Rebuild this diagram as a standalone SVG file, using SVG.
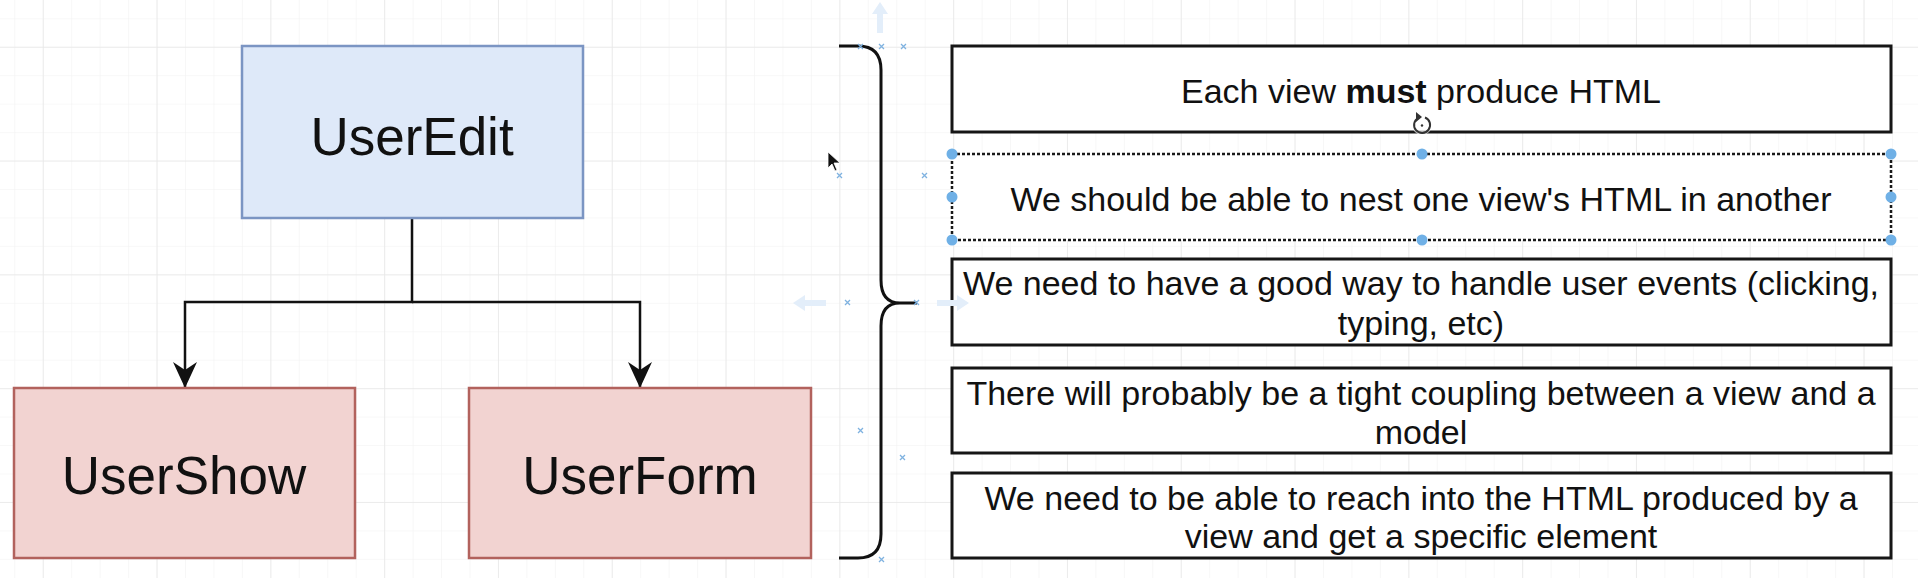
<svg xmlns="http://www.w3.org/2000/svg" width="1918" height="578" viewBox="0 0 1918 578">
<style>
.lbl{font-family:"Liberation Sans",Arial,sans-serif;fill:#111;text-anchor:middle}
.big{font-size:53px}
.txt{font-size:34px}
.blue{fill:#dee9f9;stroke:#7b95c3;stroke-width:2.5}
.red{fill:#f2d3d1;stroke:#b2625d;stroke-width:2.5}
.req{fill:#fff;stroke:#161616;stroke-width:3}
.edge{fill:none;stroke:#111;stroke-width:2.5}
.xm{stroke:#7fb2e0;stroke-width:1.3}
.hd{fill:#6fb0e6}
.ghost{fill:#e3eefa}
</style>
<defs>
<pattern id="minor" x="14.3" y="18.3" width="28.45" height="28.45" patternUnits="userSpaceOnUse">
<path d="M0,0 V28.45 M0,0 H28.45" fill="none" stroke="#f2f2f2" stroke-width="1.2"/>
</pattern>
<pattern id="major" x="42.75" y="46.75" width="113.8" height="113.8" patternUnits="userSpaceOnUse">
<path d="M0,0 V113.8 M0,0 H113.8" fill="none" stroke="#e8e8e8" stroke-width="1.5"/>
</pattern>
<marker id="arr" markerWidth="26" markerHeight="26" viewBox="0 0 26 26" refX="26" refY="13" orient="auto" markerUnits="userSpaceOnUse">
<path d="M0,1 L26,13 L0,25 L8,13 Z" fill="#111"/>
</marker>
</defs>
<rect width="1918" height="578" fill="#fff"/>
<rect width="1918" height="578" fill="url(#minor)"/>
<rect width="1918" height="578" fill="url(#major)"/>

<g id="connectors">
<path class="edge" d="M412,218 V302 H185 V388" marker-end="url(#arr)"/>
<path class="edge" d="M412,302 H640 V388" marker-end="url(#arr)"/>
</g>

<g id="userEdit">
<rect class="blue" x="242" y="46" width="341" height="172"/>
<text class="lbl big" x="412" y="155">UserEdit</text>
</g>
<g id="userShow">
<rect class="red" x="14" y="388" width="341" height="170"/>
<text class="lbl big" x="184" y="494">UserShow</text>
</g>
<g id="userForm">
<rect class="red" x="469" y="388" width="342" height="170"/>
<text class="lbl big" x="640" y="494">UserForm</text>
</g>

<g id="brace">
<path d="M839,46 H858 Q881,46 881,70 V280 Q881,303 900,303 H917 M900,303 Q881,303 881,326 V534 Q881,558 858,558 H839" fill="none" stroke="#111" stroke-width="3"/>
</g>

<g id="req1">
<rect class="req" x="952" y="46" width="939" height="86"/>
<text class="lbl txt" x="1421" y="103">Each view <tspan font-weight="bold">must</tspan> produce HTML</text>
</g>
<g id="req2">
<rect x="952" y="154" width="939" height="86" fill="#fff" stroke="#1a1a1a" stroke-width="2.5" stroke-dasharray="3 2"/>
<text class="lbl txt" x="1421" y="211">We should be able to nest one view's HTML in another</text>
</g>
<g id="req3">
<rect class="req" x="952" y="259" width="939" height="86"/>
<text class="lbl txt" x="1421" y="295">We need to have a good way to handle user events (clicking,</text>
<text class="lbl txt" x="1421" y="335">typing, etc)</text>
</g>
<g id="req4">
<rect class="req" x="952" y="368" width="939" height="85"/>
<text class="lbl txt" x="1421" y="405">There will probably be a tight coupling between a view and a</text>
<text class="lbl txt" x="1421" y="444">model</text>
</g>
<g id="req5">
<rect class="req" x="952" y="473" width="939" height="85"/>
<text class="lbl txt" x="1421" y="510">We need to be able to reach into the HTML produced by a</text>
<text class="lbl txt" x="1421" y="548">view and get a specific element</text>
</g>

<g id="selection">
<circle class="hd" cx="952" cy="154" r="5.5"/>
<circle class="hd" cx="1422" cy="154" r="5.5"/>
<circle class="hd" cx="1891" cy="154" r="5.5"/>
<circle class="hd" cx="952" cy="197" r="5.5"/>
<circle class="hd" cx="1891" cy="197" r="5.5"/>
<circle class="hd" cx="952" cy="240" r="5.5"/>
<circle class="hd" cx="1422" cy="240" r="5.5"/>
<circle class="hd" cx="1891" cy="240" r="5.5"/>
<circle cx="1422" cy="125" r="10" fill="#fff" fill-opacity="0.7"/>
<path d="M1425,117.5 A8,8 0 1 1 1418.5,117.8" fill="none" stroke="#333" stroke-width="2"/>
<path d="M1416,112 L1422,117 L1416,122 Z" fill="#333"/>
<circle cx="1422" cy="125.5" r="1.2" fill="#333"/>
</g>

<g id="guides">
<path class="ghost" d="M880,2 L872,14 L877,14 L877,33 L883,33 L883,14 L888,14 Z"/>
<path class="ghost" d="M793,303 L805,295 L805,300 L826,300 L826,306 L805,306 L805,311 Z"/>
<path class="ghost" d="M969,303 L957,295 L957,300 L937,300 L937,306 L957,306 L957,311 Z"/>
<g class="xm">
<path d="M858,44 l5,5 m0,-5 l-5,5"/>
<path d="M879,44 l5,5 m0,-5 l-5,5"/>
<path d="M901,44 l5,5 m0,-5 l-5,5"/>
<path d="M837,173 l5,5 m0,-5 l-5,5"/>
<path d="M922,173 l5,5 m0,-5 l-5,5"/>
<path d="M845,300 l5,5 m0,-5 l-5,5"/>
<path d="M914,300 l5,5 m0,-5 l-5,5"/>
<path d="M858,428 l5,5 m0,-5 l-5,5"/>
<path d="M900,455 l5,5 m0,-5 l-5,5"/>
<path d="M879,557 l5,5 m0,-5 l-5,5"/>
</g>
<path d="M828,152 L828,168 L832,164 L835,171 L837,170 L834,163 L840,163 Z" fill="#111" stroke="#fff" stroke-width="0.8"/>
</g>
</svg>
